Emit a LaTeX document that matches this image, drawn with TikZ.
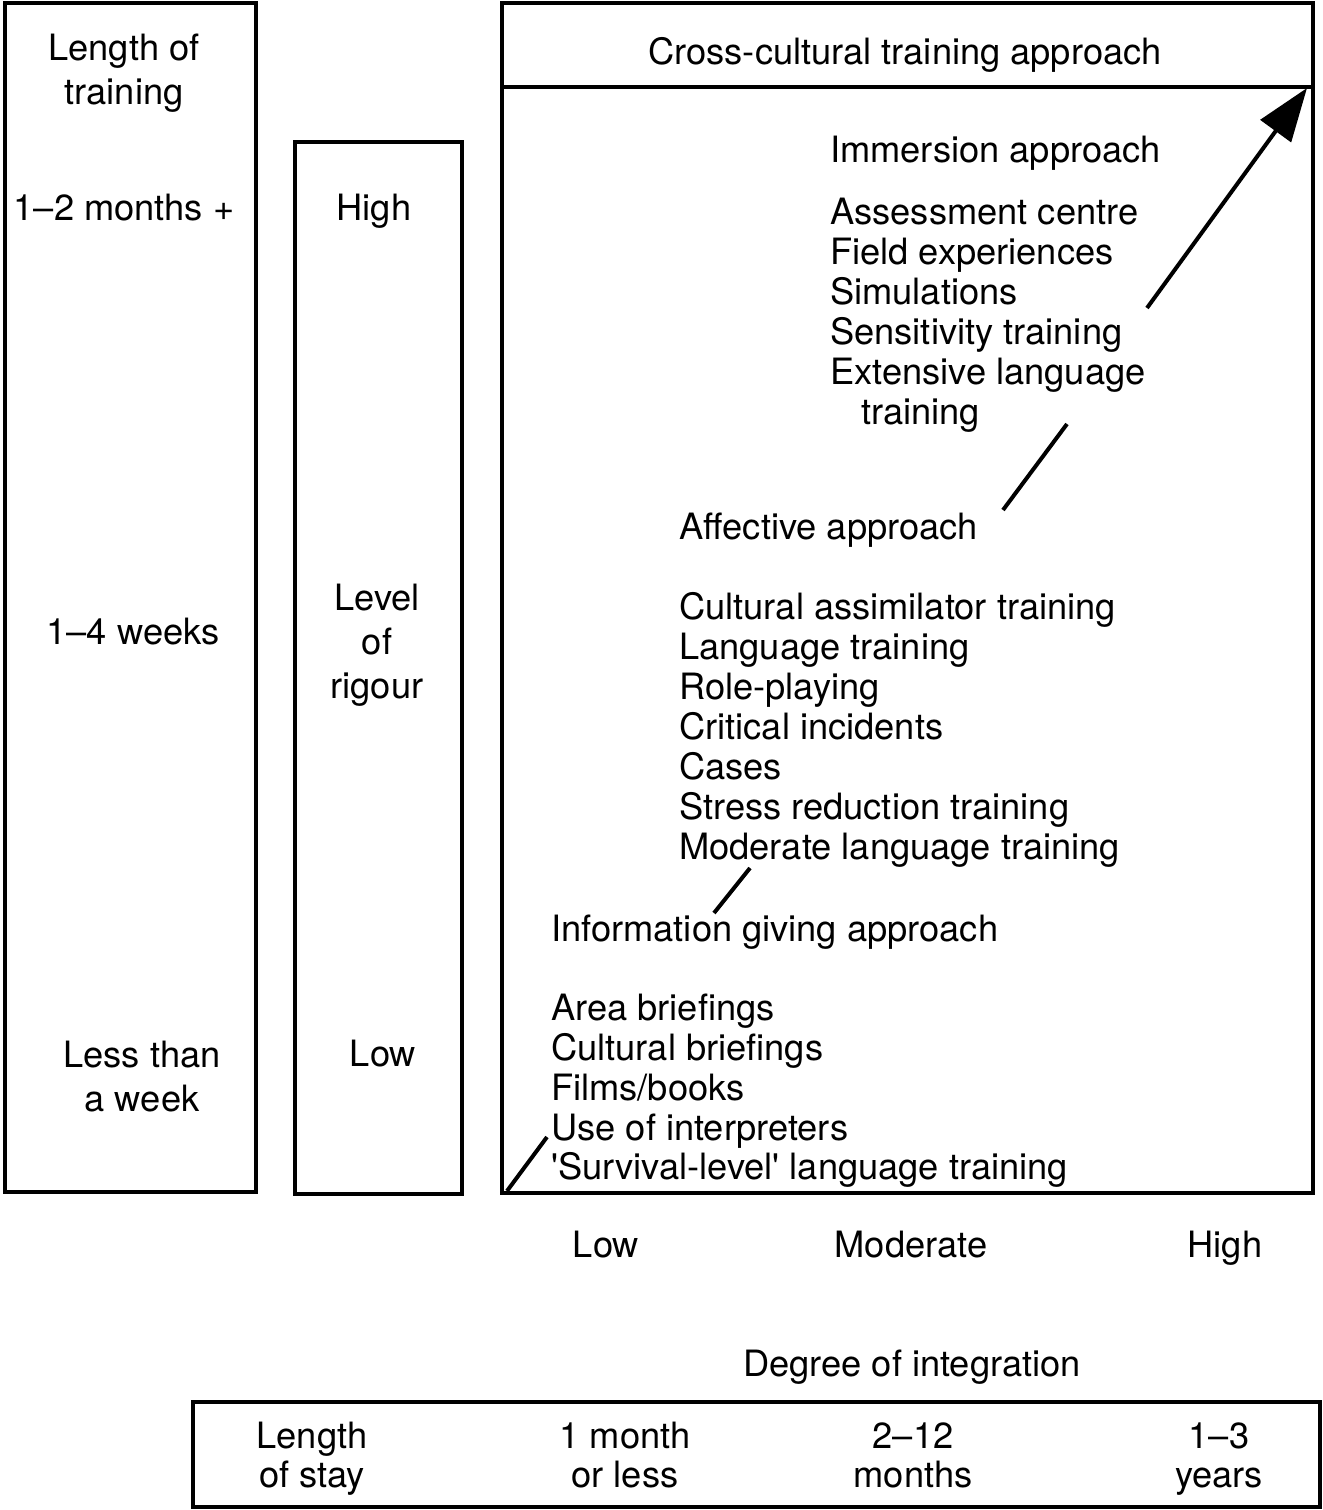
\documentclass[tikz,border=0pt]{standalone}
\usepackage{fontspec}
\setmainfont{TeX Gyre Heros}
\usetikzlibrary{arrows.meta}
\begin{document}
\begin{tikzpicture}[x=0.75pt,y=-0.75pt,
  every node/.style={font=\fontsize{27.2}{30}\selectfont, inner sep=0pt},
  box/.style={line width=2.4pt},
  lbl/.style={anchor=base},
  item/.style={anchor=base west},
  seg/.style={line width=3pt}]
\useasboundingbox (0,0) rectangle (1323,1510);
% boxes
\draw[box] (5,3) rectangle (256,1192);
\draw[box] (295,142) rectangle (462,1194);
\draw[box] (502,3) rectangle (1313,1193);
\draw[box] (502,87) -- (1313,87);
\draw[box] (193,1402) rectangle (1320,1507);
% left column
\node[lbl] (lt1) at (124,60) {Length of};
\node[lbl] (lt2) at (124,104) {training};
\node[lbl] (lt3) at (124,220) {1–2 months +};
\node[lbl] (lt4) at (133,644) {1–4 weeks};
\node[lbl] (lt5) at (142,1067) {Less than};
\node[lbl] (lt6) at (142,1111) {a week};
% middle column
\node[lbl] (mr1) at (374,220) {High};
\node[lbl] (mr2) at (377,610) {Level};
\node[lbl] (mr3) at (377,654) {of};
\node[lbl] (mr4) at (377,698) {rigour};
\node[lbl] (mr5) at (383,1066) {Low};
% header
\node[lbl] (hdr) at (905,64) {Cross-cultural training approach};
% immersion
\node[item] (im0) at (830,162) {Immersion approach};
\node[item] (im1) at (830,224) {Assessment centre};
\node[item] (im2) at (830,264) {Field experiences};
\node[item] (im3) at (830,304) {Simulations};
\node[item] (im4) at (830,344) {Sensitivity training};
\node[item] (im5) at (830,384) {Extensive language};
\node[item] (im6) at (861,424) {training};
% affective
\node[item] (af0) at (679,539) {Affective approach};
\node[item] (af1) at (679,619) {Cultural assimilator training};
\node[item] (af2) at (679,659) {Language training};
\node[item] (af3) at (679,699) {Role-playing};
\node[item] (af4) at (679,739) {Critical incidents};
\node[item] (af5) at (679,779) {Cases};
\node[item] (af6) at (679,819) {Stress reduction training};
\node[item] (af7) at (679,859) {Moderate language training};
% information giving
\node[item] (in0) at (551,941) {Information giving approach};
\node[item] (in1) at (551,1020) {Area briefings};
\node[item] (in2) at (551,1060) {Cultural briefings};
\node[item] (in3) at (551,1100) {Films/books};
\node[item] (in4) at (551,1140) {Use of interpreters};
\node[item] (in5) at (551,1179) {\textquotesingle Survival-level\textquotesingle\ language training};
% diagonal
\coordinate (d0) at (507,1191);
\coordinate (d1) at (547,1137);
\coordinate (d2) at (714,913);
\coordinate (d3) at (750,868);
\coordinate (d4) at (1003,510);
\coordinate (d5) at (1067,424);
\coordinate (d6) at (1147,308);
\coordinate (d7) at (1307,88);
\draw[seg] (d0) -- (d1);
\draw[seg] (d2) -- (d3);
\draw[seg] (d4) -- (d5);
\draw[seg,-{Triangle[length=40pt,width=28pt]}] (d6) -- (d7);
% scale
\node[lbl] (sl) at (606,1257) {Low};
\node[lbl] (sm) at (911,1257) {Moderate};
\node[lbl] (sh) at (1225,1257) {High};
\node[lbl] (deg) at (912,1376) {Degree of integration};
% bottom box
\node[lbl] (b1) at (312,1448) {Length};
\node[lbl] (b2) at (312,1487) {of stay};
\node[lbl] (b3) at (625,1448) {1 month};
\node[lbl] (b4) at (625,1487) {or less};
\node[lbl] (b5) at (913,1448) {2–12};
\node[lbl] (b6) at (913,1487) {months};
\node[lbl] (b7) at (1219,1448) {1–3};
\node[lbl] (b8) at (1219,1487) {years};
\end{tikzpicture}
\end{document}
